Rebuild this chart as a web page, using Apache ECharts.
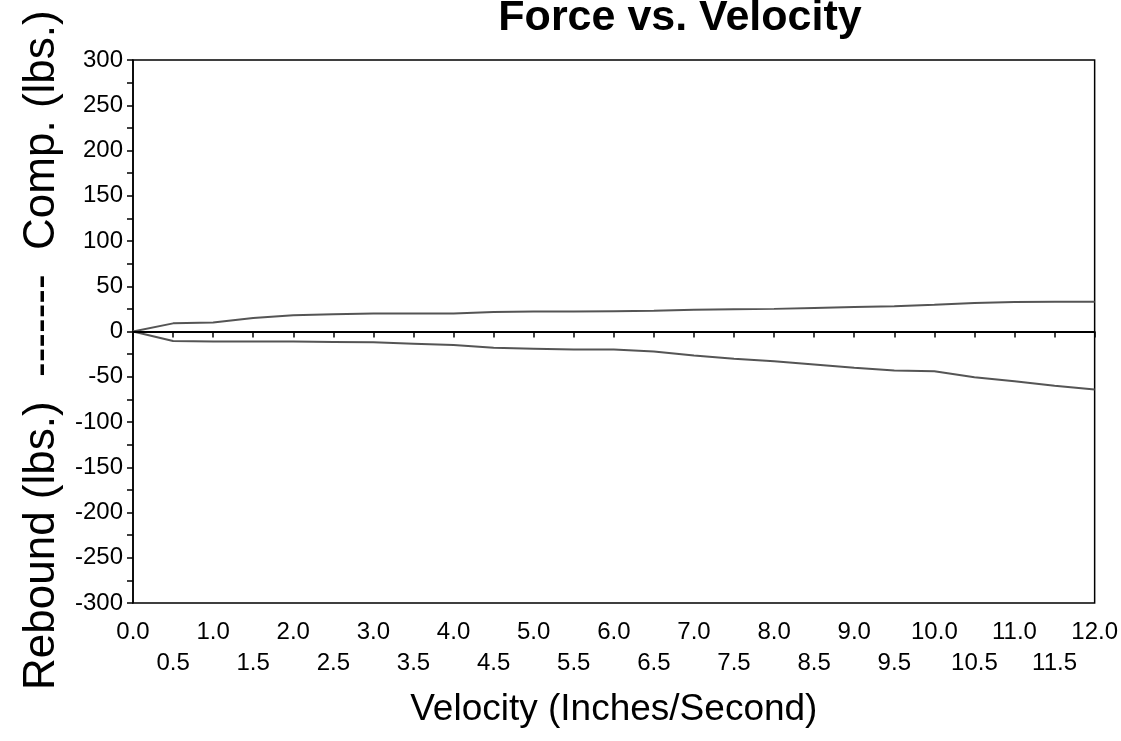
<!DOCTYPE html>
<html>
<head>
<meta charset="utf-8">
<script src="https://cdn.jsdelivr.net/npm/echarts@6/dist/echarts.min.js"></script>
<style>html,body{margin:0;padding:0;background:#fff}#c{width:1121px;height:741px}</style>
</head>
<body>
<div id="c"></div>
<script>
var velocity = [0,0.5,1,1.5,2,2.5,3,3.5,4,4.5,5,5.5,6,6.5,7,7.5,8,8.5,9,9.5,10,10.5,11,11.5,12];
var compression = [0,9,10,15,18,19,20,20,20,21.5,22,22,22.5,23,24,24.5,25,26,27,28,29.5,31.5,32.5,33,33];
var rebound = [0,-10.5,-11,-11,-11,-11.5,-12,-13.5,-15,-18,-19,-20,-20,-22,-26.5,-30,-33,-36.5,-40,-43,-44,-50.5,-55,-60,-64];
var titleText = 'Force vs. Velocity';
var xName = 'Velocity (Inches/Second)';
var yName = 'Rebound (lbs.)  -------  Comp. (lbs.)';

function pairs(ys){ return velocity.map(function(v,i){ return [v, ys[i]]; }); }
var F = '"Liberation Sans", Arial, sans-serif';
var chart = echarts.init(document.getElementById('c'));
chart.setOption({
  animation: false,
  backgroundColor: '#fff',
  title: {
    text: titleText, left: 675, top: -8, textAlign: 'center',
    textStyle: {fontFamily: F, fontSize: 43, fontWeight: 'bold', color: '#000'}
  },
  graphic: [{
    type: 'text', x: 42, y: 690, rotation: Math.PI / 2,
    style: {text: yName, font: '44px "Liberation Sans", Arial, sans-serif', fill: '#000',
            textAlign: 'left', textVerticalAlign: 'middle'}
  }],
  grid: {left: 133, right: 25, top: 60, bottom: 138, show: true, borderColor: '#000', borderWidth: 1.5},
  xAxis: [{
    type: 'value', min: 0, max: 12, interval: 0.5,
    name: xName, nameLocation: 'middle', nameGap: 88,
    nameTextStyle: {fontFamily: F, fontSize: 37, color: '#000'},
    axisLine: {lineStyle: {color: '#000', width: 1.5}},
    axisTick: {length: 6, lineStyle: {color: '#000', width: 1.5}},
    splitLine: {show: false},
    axisLabel: {
      fontFamily: F, fontSize: 24, color: '#000', margin: 17,
      showMinLabel: true, showMaxLabel: true, hideOverlap: false,
      formatter: function(v){ return (Math.round(v*2) % 2 === 0) ? v.toFixed(1) : ''; }
    }
  }, {
    type: 'value', min: 0, max: 12, interval: 0.5, position: 'bottom', offset: 31,
    axisLine: {show: false}, axisTick: {show: false}, splitLine: {show: false},
    axisLabel: {
      fontFamily: F, fontSize: 24, color: '#000', margin: 17,
      showMinLabel: true, showMaxLabel: true, hideOverlap: false,
      formatter: function(v){ return (Math.round(v*2) % 2 === 1) ? v.toFixed(1) : ''; }
    }
  }],
  yAxis: {
    type: 'value', min: -300, max: 300, interval: 50,
    axisLine: {lineStyle: {color: '#000', width: 1.5}},
    axisTick: {length: 6, lineStyle: {color: '#000', width: 1.5}},
    minorTick: {show: true, splitNumber: 2, length: 6, lineStyle: {color: '#000', width: 1.5}},
    splitLine: {show: false},
    axisLabel: {fontFamily: F, fontSize: 24, color: '#000', margin: 10}
  },
  series: [
    {
      name: 'Comp.', type: 'line', data: pairs(compression), showSymbol: false,
      lineStyle: {color: '#555', width: 2},
      markLine: {
        silent: true, symbol: ['none','none'], label: {show: false},
        lineStyle: {color: '#000', width: 2, type: 'solid'},
        data: [{yAxis: 0}]
      }
    },
    {
      name: 'Rebound', type: 'line', data: pairs(rebound), showSymbol: false,
      lineStyle: {color: '#555', width: 2}
    }
  ]
});
</script>
</body>
</html>
